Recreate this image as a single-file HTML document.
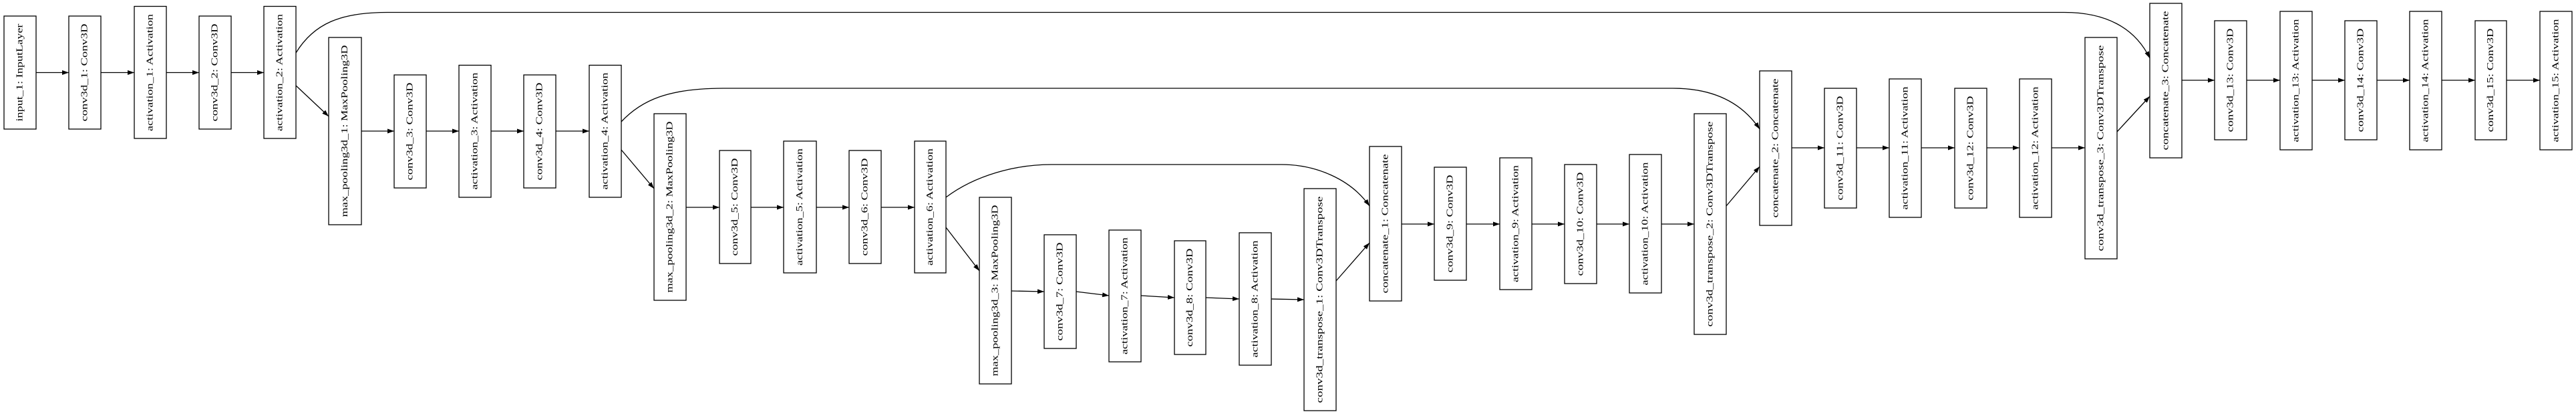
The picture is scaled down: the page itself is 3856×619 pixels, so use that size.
<!DOCTYPE html>
<html><head><meta charset="utf-8"><style>
html,body{margin:0;padding:0;background:#fff;}
svg{display:block;}
text{font-family:"Liberation Serif",serif;font-size:14px;fill:#000;}
rect{fill:#fff;stroke:#000;stroke-width:1.3;}
.e{fill:none;stroke:#000;stroke-width:1.3;marker-end:url(#a);}
</style></head><body>
<svg width="3856" height="619" viewBox="0 0 3856 619" xmlns="http://www.w3.org/2000/svg">
<defs><marker id="a" markerUnits="userSpaceOnUse" markerWidth="11" markerHeight="8" refX="10" refY="3.5" orient="auto"><path d="M0,0 L10,3.5 L0,7 z" fill="#000"/></marker></defs>

<!-- edges -->
<path class="e" d="M54,108.5 L103,108.5"/>
<path class="e" d="M151,108.5 L201,108.5"/>
<path class="e" d="M249,108.5 L298,108.5"/>
<path class="e" d="M346,108.5 L395,108.5"/>
<path class="e" d="M443,128 L492,174"/>
<path class="e" d="M541,196 L590,196"/>
<path class="e" d="M638,196 L687,196"/>
<path class="e" d="M735,196 L784,196"/>
<path class="e" d="M832,196 L882,196"/>
<path class="e" d="M930,224 L979,282"/>
<path class="e" d="M1027,310 L1077,310"/>
<path class="e" d="M1124,310 L1173,310"/>
<path class="e" d="M1222,310 L1271,310"/>
<path class="e" d="M1319,310 L1369,310"/>
<path class="e" d="M1416,340 L1466,405"/>
<path class="e" d="M1514,435 L1563,436"/>
<path class="e" d="M1611,436 L1660,442"/>
<path class="e" d="M1708,442 L1758,445"/>
<path class="e" d="M1805,445 L1855,447"/>
<path class="e" d="M1903,447 L1952,448"/>
<path class="e" d="M2000,420 L2050,363"/>
<path class="e" d="M2098,335 L2147,335"/>
<path class="e" d="M2195,335 L2245,335"/>
<path class="e" d="M2293,335 L2342,335"/>
<path class="e" d="M2390,335 L2439,335"/>
<path class="e" d="M2487,335 L2536,335"/>
<path class="e" d="M2584,308 L2634,249"/>
<path class="e" d="M2682,221 L2731,221"/>
<path class="e" d="M2779,221 L2828,221"/>
<path class="e" d="M2876,221 L2926,221"/>
<path class="e" d="M2974,221 L3023,221"/>
<path class="e" d="M3071,221 L3121,221"/>
<path class="e" d="M3169,197 L3218,144"/>
<path class="e" d="M3266,120 L3315,120"/>
<path class="e" d="M3363,120 L3413,120"/>
<path class="e" d="M3461,120 L3510,120"/>
<path class="e" d="M3558,120 L3607,120"/>
<path class="e" d="M3655,120 L3705,120"/>
<path class="e" d="M3752,120 L3802,120"/>
<path class="e" d="M443,79 C470,35 510,18.5 580,18.5 L3090,18.5 C3150,18.5 3195,40 3218,87"/>
<path class="e" d="M930,182 C960,150 1000,132 1083,132 L2504,132 C2560,132 2605,150 2634,193"/>
<path class="e" d="M1416,295 C1460,262 1520,246 1574,246 L1918,246 C1970,246 2022,268 2050,308"/>

<!-- nodes -->
<rect x="6" y="24" width="48" height="169"/><text transform="translate(30,108.5) rotate(-90)" text-anchor="middle" dominant-baseline="central" textLength="146" lengthAdjust="spacingAndGlyphs">input_1: InputLayer</text>
<rect x="103" y="24" width="48" height="169"/><text transform="translate(127,108.5) rotate(-90)" text-anchor="middle" dominant-baseline="central" textLength="146" lengthAdjust="spacingAndGlyphs">conv3d_1: Conv3D</text>
<rect x="201" y="9.5" width="48" height="197.5"/><text transform="translate(225,108.5) rotate(-90)" text-anchor="middle" dominant-baseline="central" textLength="175" lengthAdjust="spacingAndGlyphs">activation_1: Activation</text>
<rect x="298" y="24" width="48" height="169"/><text transform="translate(322,108.5) rotate(-90)" text-anchor="middle" dominant-baseline="central" textLength="146" lengthAdjust="spacingAndGlyphs">conv3d_2: Conv3D</text>
<rect x="395" y="9.5" width="48" height="197.5"/><text transform="translate(419,108.5) rotate(-90)" text-anchor="middle" dominant-baseline="central" textLength="175" lengthAdjust="spacingAndGlyphs">activation_2: Activation</text>
<rect x="492" y="56" width="49" height="280"/><text transform="translate(516.5,196) rotate(-90)" text-anchor="middle" dominant-baseline="central" textLength="257" lengthAdjust="spacingAndGlyphs">max_pooling3d_1: MaxPooling3D</text>
<rect x="590" y="112" width="48" height="169"/><text transform="translate(614,196.5) rotate(-90)" text-anchor="middle" dominant-baseline="central" textLength="146" lengthAdjust="spacingAndGlyphs">conv3d_3: Conv3D</text>
<rect x="687" y="97.5" width="48" height="197.5"/><text transform="translate(711,196) rotate(-90)" text-anchor="middle" dominant-baseline="central" textLength="175" lengthAdjust="spacingAndGlyphs">activation_3: Activation</text>
<rect x="784" y="112" width="48" height="169"/><text transform="translate(808,196.5) rotate(-90)" text-anchor="middle" dominant-baseline="central" textLength="146" lengthAdjust="spacingAndGlyphs">conv3d_4: Conv3D</text>
<rect x="882" y="97.5" width="48" height="197.5"/><text transform="translate(906,196) rotate(-90)" text-anchor="middle" dominant-baseline="central" textLength="175" lengthAdjust="spacingAndGlyphs">activation_4: Activation</text>
<rect x="979" y="170" width="48" height="279"/><text transform="translate(1003,309.5) rotate(-90)" text-anchor="middle" dominant-baseline="central" textLength="256" lengthAdjust="spacingAndGlyphs">max_pooling3d_2: MaxPooling3D</text>
<rect x="1077" y="225" width="47" height="169"/><text transform="translate(1100.5,309.5) rotate(-90)" text-anchor="middle" dominant-baseline="central" textLength="146" lengthAdjust="spacingAndGlyphs">conv3d_5: Conv3D</text>
<rect x="1173" y="211" width="49" height="197"/><text transform="translate(1197.5,309.5) rotate(-90)" text-anchor="middle" dominant-baseline="central" textLength="175" lengthAdjust="spacingAndGlyphs">activation_5: Activation</text>
<rect x="1271" y="225" width="48" height="169"/><text transform="translate(1295,309.5) rotate(-90)" text-anchor="middle" dominant-baseline="central" textLength="146" lengthAdjust="spacingAndGlyphs">conv3d_6: Conv3D</text>
<rect x="1369" y="211" width="47" height="197"/><text transform="translate(1392.5,309.5) rotate(-90)" text-anchor="middle" dominant-baseline="central" textLength="175" lengthAdjust="spacingAndGlyphs">activation_6: Activation</text>
<rect x="1466" y="295" width="48" height="279"/><text transform="translate(1490,434.5) rotate(-90)" text-anchor="middle" dominant-baseline="central" textLength="256" lengthAdjust="spacingAndGlyphs">max_pooling3d_3: MaxPooling3D</text>
<rect x="1563" y="351" width="48" height="170"/><text transform="translate(1587,436) rotate(-90)" text-anchor="middle" dominant-baseline="central" textLength="147" lengthAdjust="spacingAndGlyphs">conv3d_7: Conv3D</text>
<rect x="1660" y="344" width="48" height="197"/><text transform="translate(1684,442.5) rotate(-90)" text-anchor="middle" dominant-baseline="central" textLength="175" lengthAdjust="spacingAndGlyphs">activation_7: Activation</text>
<rect x="1758" y="360" width="47" height="170"/><text transform="translate(1781.5,445) rotate(-90)" text-anchor="middle" dominant-baseline="central" textLength="147" lengthAdjust="spacingAndGlyphs">conv3d_8: Conv3D</text>
<rect x="1855" y="348" width="48" height="198"/><text transform="translate(1879,447) rotate(-90)" text-anchor="middle" dominant-baseline="central" textLength="175" lengthAdjust="spacingAndGlyphs">activation_8: Activation</text>
<rect x="1952" y="282" width="48" height="332"/><text transform="translate(1976,448) rotate(-90)" text-anchor="middle" dominant-baseline="central" textLength="309" lengthAdjust="spacingAndGlyphs">conv3d_transpose_1: Conv3DTranspose</text>
<rect x="2050" y="219" width="48" height="231"/><text transform="translate(2074,334.5) rotate(-90)" text-anchor="middle" dominant-baseline="central" textLength="208" lengthAdjust="spacingAndGlyphs">concatenate_1: Concatenate</text>
<rect x="2147" y="250" width="48" height="169"/><text transform="translate(2171,334.5) rotate(-90)" text-anchor="middle" dominant-baseline="central" textLength="146" lengthAdjust="spacingAndGlyphs">conv3d_9: Conv3D</text>
<rect x="2245" y="236" width="48" height="197"/><text transform="translate(2269,334.5) rotate(-90)" text-anchor="middle" dominant-baseline="central" textLength="175" lengthAdjust="spacingAndGlyphs">activation_9: Activation</text>
<rect x="2342" y="246" width="48" height="178"/><text transform="translate(2366,335) rotate(-90)" text-anchor="middle" dominant-baseline="central" textLength="155" lengthAdjust="spacingAndGlyphs">conv3d_10: Conv3D</text>
<rect x="2439" y="231" width="48" height="207"/><text transform="translate(2463,334.5) rotate(-90)" text-anchor="middle" dominant-baseline="central" textLength="184" lengthAdjust="spacingAndGlyphs">activation_10: Activation</text>
<rect x="2536" y="170" width="48" height="330"/><text transform="translate(2560,335) rotate(-90)" text-anchor="middle" dominant-baseline="central" textLength="307" lengthAdjust="spacingAndGlyphs">conv3d_transpose_2: Conv3DTranspose</text>
<rect x="2634" y="106" width="48" height="231"/><text transform="translate(2658,221.5) rotate(-90)" text-anchor="middle" dominant-baseline="central" textLength="208" lengthAdjust="spacingAndGlyphs">concatenate_2: Concatenate</text>
<rect x="2731" y="132" width="48" height="179"/><text transform="translate(2755,221.5) rotate(-90)" text-anchor="middle" dominant-baseline="central" textLength="156" lengthAdjust="spacingAndGlyphs">conv3d_11: Conv3D</text>
<rect x="2828" y="118" width="48" height="207"/><text transform="translate(2852,221.5) rotate(-90)" text-anchor="middle" dominant-baseline="central" textLength="184" lengthAdjust="spacingAndGlyphs">activation_11: Activation</text>
<rect x="2926" y="132" width="48" height="179"/><text transform="translate(2950,221.5) rotate(-90)" text-anchor="middle" dominant-baseline="central" textLength="156" lengthAdjust="spacingAndGlyphs">conv3d_12: Conv3D</text>
<rect x="3023" y="118" width="48" height="207"/><text transform="translate(3047,221.5) rotate(-90)" text-anchor="middle" dominant-baseline="central" textLength="184" lengthAdjust="spacingAndGlyphs">activation_12: Activation</text>
<rect x="3121" y="56" width="48" height="331"/><text transform="translate(3145,221.5) rotate(-90)" text-anchor="middle" dominant-baseline="central" textLength="308" lengthAdjust="spacingAndGlyphs">conv3d_transpose_3: Conv3DTranspose</text>
<rect x="3218" y="5" width="48" height="231"/><text transform="translate(3242,120.5) rotate(-90)" text-anchor="middle" dominant-baseline="central" textLength="208" lengthAdjust="spacingAndGlyphs">concatenate_3: Concatenate</text>
<rect x="3315" y="31" width="48" height="178"/><text transform="translate(3339,120) rotate(-90)" text-anchor="middle" dominant-baseline="central" textLength="155" lengthAdjust="spacingAndGlyphs">conv3d_13: Conv3D</text>
<rect x="3413" y="17" width="48" height="207"/><text transform="translate(3437,120.5) rotate(-90)" text-anchor="middle" dominant-baseline="central" textLength="184" lengthAdjust="spacingAndGlyphs">activation_13: Activation</text>
<rect x="3510" y="31" width="48" height="178"/><text transform="translate(3534,120) rotate(-90)" text-anchor="middle" dominant-baseline="central" textLength="155" lengthAdjust="spacingAndGlyphs">conv3d_14: Conv3D</text>
<rect x="3607" y="17" width="48" height="207"/><text transform="translate(3631,120.5) rotate(-90)" text-anchor="middle" dominant-baseline="central" textLength="184" lengthAdjust="spacingAndGlyphs">activation_14: Activation</text>
<rect x="3705" y="31" width="47" height="178"/><text transform="translate(3728.5,120) rotate(-90)" text-anchor="middle" dominant-baseline="central" textLength="155" lengthAdjust="spacingAndGlyphs">conv3d_15: Conv3D</text>
<rect x="3802" y="17" width="48" height="207"/><text transform="translate(3826,120.5) rotate(-90)" text-anchor="middle" dominant-baseline="central" textLength="184" lengthAdjust="spacingAndGlyphs">activation_15: Activation</text>
</svg>
</body></html>
